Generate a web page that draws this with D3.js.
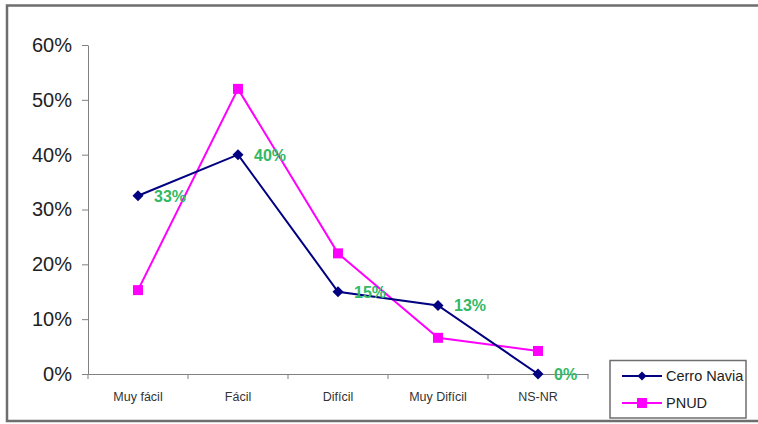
<!DOCTYPE html>
<html><head><meta charset="utf-8">
<script src="https://cdn.jsdelivr.net/npm/d3@7"></script>
<style>body{margin:0;background:#fff}svg{display:block;font-family:"Liberation Sans",Arial,sans-serif}</style>
</head><body><svg id="c" width="758" height="424"></svg>
<script>
const categories = ["Muy fácil","Fácil","Difícil","Muy Difícil","NS-NR"];
const cerroNavia = [0.325,0.40,0.15,0.125,0.0];
const cerroLabels = ["33%","40%","15%","13%","0%"];
const pnud = [0.153,0.52,0.22,0.066,0.042];
const yTicks = [0,0.1,0.2,0.3,0.4,0.5,0.6];
const seriesNames = ["Cerro Navia","PNUD"];

const svg = d3.select("#c");
svg.append("rect").attr("x",7).attr("y",5.5).attr("width",760).attr("height",415.5)
  .attr("fill","#fff").attr("stroke","#6e6e6e").attr("stroke-width",2.5);

const x = d3.scaleBand().domain(categories).range([88,588]);
const y = d3.scaleLinear().domain([0,0.6]).range([374,45]);

const yAxis = svg.append("g").attr("transform","translate(88,0)")
  .call(d3.axisLeft(y).tickValues(yTicks).tickFormat(d3.format(".0%")).tickSize(6).tickSizeOuter(0));
yAxis.select(".domain").attr("stroke","#808080");
yAxis.selectAll(".tick line").attr("stroke","#808080");
yAxis.selectAll("text").attr("font-size",20).attr("fill","#222").attr("x",-16).attr("font-family","Liberation Sans, Arial, sans-serif");

const xAxis = svg.append("g").attr("transform","translate(0,374)")
  .call(d3.axisBottom(x).tickSize(0).tickSizeOuter(0));
xAxis.select(".domain").attr("stroke","#808080");
xAxis.selectAll("text").attr("font-size",12.5).attr("fill","#333").attr("dy","0").attr("y",27).attr("font-family","Liberation Sans, Arial, sans-serif");
const edges = categories.map(c=>x(c)).concat([x.range()[1]]);
xAxis.selectAll(".edge").data(edges).enter().append("line")
  .attr("x1",d=>d).attr("x2",d=>d).attr("y1",0).attr("y2",5).attr("stroke","#808080");

const cx = c => x(c)+x.bandwidth()/2;
const line = d3.line().x((d,i)=>cx(categories[i])).y(d=>y(d));

svg.append("path").datum(pnud).attr("d",line).attr("fill","none").attr("stroke","#ff00ff").attr("stroke-width",2);
svg.append("path").datum(cerroNavia).attr("d",line).attr("fill","none").attr("stroke","#000080").attr("stroke-width",2);

svg.selectAll(".pm").data(pnud).enter().append("rect")
  .attr("x",(d,i)=>cx(categories[i])-5).attr("y",d=>y(d)-5).attr("width",10).attr("height",10).attr("fill","#ff00ff");
svg.selectAll(".cm").data(cerroNavia).enter().append("path")
  .attr("d",d3.symbol(d3.symbolSquare,60))
  .attr("transform",(d,i)=>`translate(${cx(categories[i])},${y(d)}) rotate(45)`).attr("fill","#000080");

svg.selectAll(".lbl").data(cerroNavia).enter().append("text")
  .attr("x",(d,i)=>cx(categories[i])+16).attr("y",d=>y(d)+6)
  .attr("font-size",16).attr("font-weight","bold").attr("fill","#33b864")
  .text((d,i)=>cerroLabels[i]);

const lg = svg.append("g");
lg.append("rect").attr("x",610).attr("y",360.5).attr("width",136).attr("height",57.5)
  .attr("fill","#fff").attr("stroke","#6e6e6e").attr("stroke-width",1.5);
const colors = ["#000080","#ff00ff"];
seriesNames.forEach((n,i)=>{
  const yy = 376 + i*27;
  lg.append("line").attr("x1",622).attr("x2",662).attr("y1",yy).attr("y2",yy).attr("stroke",colors[i]).attr("stroke-width",2);
  if(i===0) lg.append("path").attr("d",d3.symbol(d3.symbolSquare,40)).attr("transform",`translate(642,${yy}) rotate(45)`).attr("fill",colors[i]);
  else lg.append("rect").attr("x",637).attr("y",yy-5).attr("width",10).attr("height",10).attr("fill",colors[i]);
  lg.append("text").attr("x",666).attr("y",yy+5).attr("font-size",14.5).attr("fill","#222").text(n);
});
</script></body></html>
